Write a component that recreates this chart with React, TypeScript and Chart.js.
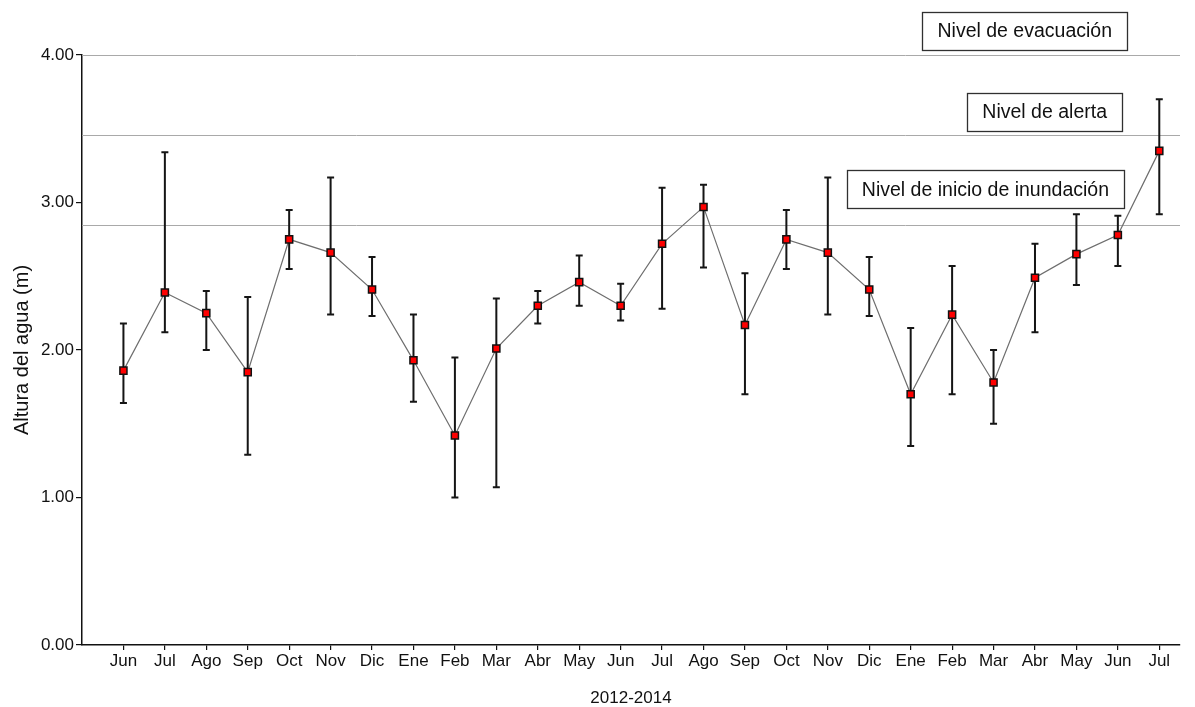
import React, { useEffect, useRef } from "react";
import { Chart, registerables } from "chart.js";

Chart.register(...registerables);

// ---- data ----
const months = ["Jun", "Jul", "Ago", "Sep", "Oct", "Nov", "Dic", "Ene", "Feb", "Mar", "Abr", "May", "Jun", "Jul", "Ago", "Sep", "Oct", "Nov", "Dic", "Ene", "Feb", "Mar", "Abr", "May", "Jun", "Jul"];
const meanLevel = [1.86, 2.39, 2.25, 1.85, 2.75, 2.66, 2.41, 1.93, 1.42, 2.01, 2.30, 2.46, 2.30, 2.72, 2.97, 2.17, 2.75, 2.66, 2.41, 1.70, 2.24, 1.78, 2.49, 2.65, 2.78, 3.35];
const maxLevel = [2.18, 3.34, 2.40, 2.36, 2.95, 3.17, 2.63, 2.24, 1.95, 2.35, 2.40, 2.64, 2.45, 3.10, 3.12, 2.52, 2.95, 3.17, 2.63, 2.15, 2.57, 2.00, 2.72, 2.92, 2.91, 3.70];
const minLevel = [1.64, 2.12, 2.00, 1.29, 2.55, 2.24, 2.23, 1.65, 1.00, 1.07, 2.18, 2.30, 2.20, 2.28, 2.56, 1.70, 2.55, 2.24, 2.23, 1.35, 1.70, 1.50, 2.12, 2.44, 2.57, 2.92];
const yTickValues = [0, 1, 2, 3, 4];
const thresholdValues = [4.0, 3.46, 2.85];
const thresholdLabels = ["Nivel de evacuación", "Nivel de alerta", "Nivel de inicio de inundación"];
const xTitle = "2012-2014";
const yTitle = "Altura del agua (m)";

// ---- styles ----
const FONT = "'Liberation Sans', Arial, sans-serif";
const boxStyles = [
  { rightInset: 53, centerOffset: -24 },
  { rightInset: 58, centerOffset: -23 },
  { rightInset: 56, centerOffset: -35.5 },
];

const overlayPlugin = {
  id: "overlay",
  beforeDatasetsDraw(chart: any) {
    const { ctx, chartArea, scales } = chart;
    const y = scales.y;
    ctx.save();
    ctx.strokeStyle = "#a9a9a9";
    ctx.lineWidth = 1;
    thresholdValues.forEach((v) => {
      const py = Math.round(y.getPixelForValue(v)) + 0.5;
      ctx.beginPath();
      ctx.moveTo(chartArea.left, py);
      ctx.lineTo(chartArea.right, py);
      ctx.stroke();
    });
    ctx.restore();
  },
  afterDatasetDraw(chart: any, args: any) {
    if (args.index !== 1) return;
    const { ctx, scales } = chart;
    const x = scales.x;
    const y = scales.y;
    ctx.save();
    ctx.strokeStyle = "#151515";
    ctx.lineWidth = 2;
    months.forEach((_, i) => {
      const px = x.getPixelForValue(i + 1);
      const top = y.getPixelForValue(maxLevel[i]);
      const bot = y.getPixelForValue(minLevel[i]);
      ctx.beginPath();
      ctx.moveTo(px, top);
      ctx.lineTo(px, bot);
      ctx.moveTo(px - 3.5, top);
      ctx.lineTo(px + 3.5, top);
      ctx.moveTo(px - 3.5, bot);
      ctx.lineTo(px + 3.5, bot);
      ctx.stroke();
    });
    ctx.restore();
  },
  afterDatasetsDraw(chart: any) {
    const { ctx, chartArea, scales } = chart;
    const y = scales.y;
    ctx.save();
    ctx.font = `19.5px ${FONT}`;
    ctx.textBaseline = "middle";
    ctx.textAlign = "center";
    thresholdLabels.forEach((label, i) => {
      const st = boxStyles[i];
      const w = ctx.measureText(label).width + 30;
      const h = 38;
      const right = chartArea.right - st.rightInset;
      const cy = y.getPixelForValue(thresholdValues[i]) + st.centerOffset;
      const left = right - w;
      ctx.fillStyle = "#ffffff";
      ctx.fillRect(left, cy - h / 2, w, h);
      ctx.strokeStyle = "#303030";
      ctx.lineWidth = 1.3;
      ctx.strokeRect(Math.round(left) + 0.5, Math.round(cy - h / 2) + 0.5, Math.round(w), h);
      ctx.fillStyle = "#111111";
      ctx.fillText(label, left + w / 2, cy + 1);
    });
    ctx.restore();
  },
};

export default function App() {
  const ref = useRef<HTMLCanvasElement | null>(null);

  useEffect(() => {
    if (!ref.current) return;
    const points = meanLevel.map((v, i) => ({ x: i + 1, y: v }));
    const chart = new Chart(ref.current, {
      type: "line",
      data: {
        datasets: [
          {
            label: "markers",
            data: points,
            showLine: false,
            pointStyle: "rect",
            pointRadius: 5,
            pointBackgroundColor: "#ff0000",
            pointBorderColor: "#111111",
            pointBorderWidth: 1.5,
            order: 1,
          },
          {
            label: "line",
            data: points,
            borderColor: "#6e6e6e",
            borderWidth: 1.2,
            pointRadius: 0,
            fill: false,
            tension: 0,
            order: 2,
          },
        ],
      },
      options: {
        responsive: false,
        animation: false,
        devicePixelRatio: 1,
        layout: { padding: { top: 55, right: 15, left: 0, bottom: 0 } },
        plugins: { legend: { display: false }, tooltip: { enabled: false } },
        scales: {
          x: {
            type: "linear",
            min: 0,
            max: 26.5,
            afterFit(scale: any) {
              scale.height = 62;
            },
            afterBuildTicks(scale: any) {
              scale.ticks = months.map((_, i) => ({ value: i + 1 }));
            },
            ticks: {
              autoSkip: false,
              maxRotation: 0,
              padding: 1,
              color: "#111",
              font: { family: FONT, size: 17 },
              callback: (v: any) => months[Number(v) - 1] ?? "",
            },
            grid: {
              display: true,
              drawOnChartArea: false,
              drawTicks: true,
              tickLength: 5,
              color: "#111",
              lineWidth: 1.2,
            },
            border: { display: true, color: "#111", width: 1.5 },
            title: {
              display: true,
              text: xTitle,
              color: "#111",
              font: { family: FONT, size: 17 },
              padding: { top: 0, bottom: -2 },
            },
          },
          y: {
            min: 0,
            max: 4,
            afterFit(scale: any) {
              scale.width = 82;
            },
            afterBuildTicks(scale: any) {
              scale.ticks = yTickValues.map((v) => ({ value: v }));
            },
            ticks: {
              padding: 2,
              color: "#111",
              font: { family: FONT, size: 17 },
              callback: (v: any) => Number(v).toFixed(2),
            },
            grid: {
              display: true,
              drawOnChartArea: false,
              drawTicks: true,
              tickLength: 6,
              color: "#111",
              lineWidth: 1.2,
            },
            border: { display: true, color: "#111", width: 1.5 },
            title: {
              display: true,
              text: yTitle,
              color: "#111",
              font: { family: FONT, size: 20 },
              padding: { top: 10, bottom: 0 },
            },
          },
        },
      },
      plugins: [overlayPlugin],
    });
    return () => chart.destroy();
  }, []);

  return (
    <div style={{ position: "absolute", left: 0, top: 0, width: 1195, height: 707, background: "#fff" }}>
      <canvas ref={ref} width={1195} height={707} style={{ display: "block" }} />
    </div>
  );
}
